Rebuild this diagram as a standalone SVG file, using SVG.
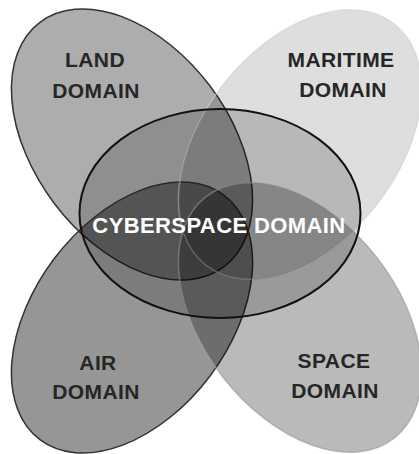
<svg xmlns="http://www.w3.org/2000/svg" width="419" height="454" viewBox="0 0 419 454">
  <style>
    .dom { fill: #000; }
    .dark-edge { stroke: #333; stroke-width: 1.5; }
    .light-edge { stroke-width: 1.5; }
    .label { font-family: "Liberation Sans", Arial, sans-serif; font-weight: bold; font-size: 21px; letter-spacing: 0.4px; fill: #262626; text-anchor: middle; }
    .cyber-label { font-family: "Liberation Sans", Arial, sans-serif; font-weight: bold; font-size: 22px; letter-spacing: 0.4px; fill: #fff; text-anchor: middle; }
  </style>
  <rect width="419" height="454" fill="#fff"/>

  <!-- Land: upper-left lobe -->
  <g id="land">
    <ellipse class="dom dark-edge" cx="132" cy="144.5" rx="153" ry="97.5" fill-opacity="0.32" transform="rotate(53 132 144.5)"/>
    <text class="label" x="95" y="67">LAND</text>
    <text class="label" x="96" y="98">DOMAIN</text>
  </g>

  <!-- Air: lower-left lobe -->
  <g id="air">
    <ellipse class="dom dark-edge" cx="132" cy="317.5" rx="153" ry="97.5" fill-opacity="0.41" transform="rotate(-53 132 317.5)"/>
    <text class="label" x="98" y="370">AIR</text>
    <text class="label" x="96" y="399">DOMAIN</text>
  </g>

  <!-- Maritime: upper-right lobe -->
  <g id="maritime">
    <ellipse class="dom light-edge" cx="300" cy="144.5" rx="153" ry="97.5" fill-opacity="0.13" stroke="#d0d0d0" stroke-opacity="0.6" transform="rotate(-52 300 144.5)"/>
    <text class="label" x="341" y="67">MARITIME</text>
    <text class="label" x="343" y="97">DOMAIN</text>
  </g>

  <!-- Space: lower-right lobe -->
  <g id="space">
    <ellipse class="dom light-edge" cx="300" cy="317.5" rx="153" ry="97.5" fill-opacity="0.27" stroke="#a0a0a0" stroke-opacity="0.7" transform="rotate(52 300 317.5)"/>
    <text class="label" x="334" y="368">SPACE</text>
    <text class="label" x="335" y="398">DOMAIN</text>
  </g>

  <!-- Cyberspace: central ellipse spanning all four -->
  <g id="cyberspace">
    <ellipse cx="220" cy="213.5" rx="140.5" ry="104.5" fill="#000" fill-opacity="0.17" stroke="#111" stroke-width="2"/>
    <text class="cyber-label" x="219" y="233">CYBERSPACE DOMAIN</text>
  </g>
</svg>
